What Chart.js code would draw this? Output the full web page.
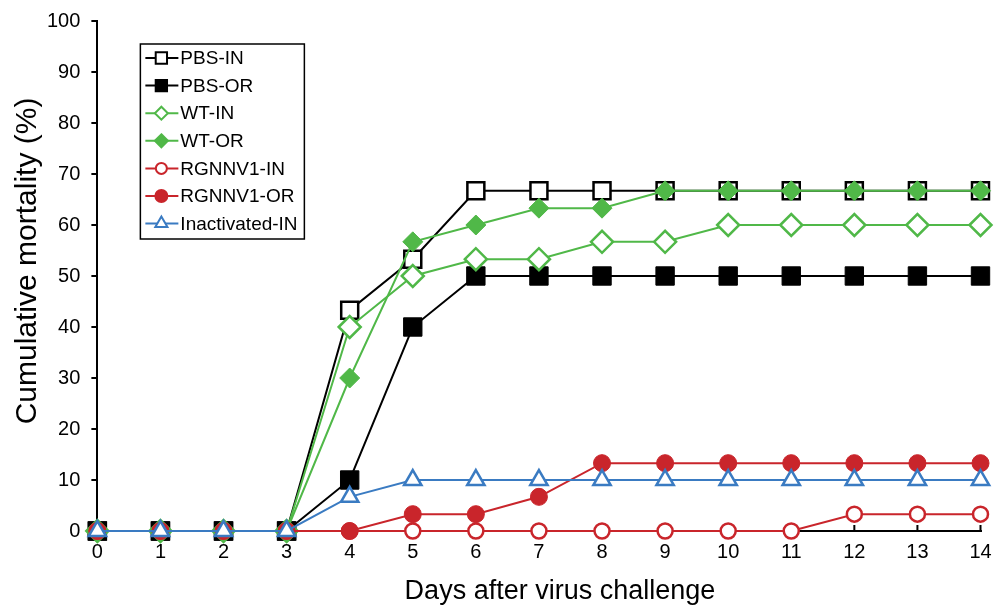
<!DOCTYPE html>
<html>
<head>
<meta charset="utf-8">
<script src="https://cdn.jsdelivr.net/npm/chart.js@4.4.0/dist/chart.umd.min.js"></script>
<style>
  html, body { margin: 0; padding: 0; background: #fff; }
  #wrap { width: 995px; height: 608px; }
</style>
</head>
<body>
<div id="wrap"><canvas id="c"></canvas></div>
<script>
// days after challenge
const days = [0, 1, 2, 3, 4, 5, 6, 7, 8, 9, 10, 11, 12, 13, 14];

// cumulative mortality (%) per group
const pbsIn   = [0, 0, 0, 0, 43.3, 53.3, 66.7, 66.7, 66.7, 66.7, 66.7, 66.7, 66.7, 66.7, 66.7];
const pbsOr   = [0, 0, 0, 0, 10, 40, 50, 50, 50, 50, 50, 50, 50, 50, 50];
const wtIn    = [0, 0, 0, 0, 40, 50, 53.3, 53.3, 56.7, 56.7, 60, 60, 60, 60, 60];
const wtOr    = [0, 0, 0, 0, 30, 56.7, 60, 63.3, 63.3, 66.7, 66.7, 66.7, 66.7, 66.7, 66.7];
const rgIn    = [0, 0, 0, 0, 0, 0, 0, 0, 0, 0, 0, 0, 3.3, 3.3, 3.3];
const rgOr    = [0, 0, 0, 0, 0, 3.3, 3.3, 6.7, 13.3, 13.3, 13.3, 13.3, 13.3, 13.3, 13.3];
const inactIn = [0, 0, 0, 0, 6.7, 10, 10, 10, 10, 10, 10, 10, 10, 10, 10];

const yTicks = [0, 10, 20, 30, 40, 50, 60, 70, 80, 90, 100];

const xTitle = 'Days after virus challenge';
const yTitle = 'Cumulative mortality (%)';

const BLACK = '#000000';
const GREEN = '#50b848';
const RED = '#c9252b';
const BLUE = '#3a7bc2';
const FONT = '"Liberation Sans", Arial, sans-serif';

// label, marker style, colour, filled, radius on chart, radius in legend
const series = [
  { label: 'PBS-IN', data: pbsIn, color: BLACK, style: 'rect', filled: false, r: 12, lr: 8 },
  { label: 'PBS-OR', data: pbsOr, color: BLACK, style: 'rect', filled: true, r: 13, lr: 8 },
  { label: 'WT-IN', data: wtIn, color: GREEN, style: 'rectRot', filled: false, r: 11, lr: 6.5 },
  { label: 'WT-OR', data: wtOr, color: GREEN, style: 'rectRot', filled: true, r: 10, lr: 6.5 },
  { label: 'RGNNV1-IN', data: rgIn, color: RED, style: 'circle', filled: false, r: 7.5, lr: 5.5 },
  { label: 'RGNNV1-OR', data: rgOr, color: RED, style: 'circle', filled: true, r: 8.5, lr: 6 },
  { label: 'Inactivated-IN', data: inactIn, color: BLUE, style: 'triangle', filled: false, r: 10, lr: 7 }
];

const datasets = series.map((s, i) => ({
  label: s.label,
  data: days.map((d, k) => ({ x: d, y: s.data[k] })),
  borderColor: s.color,
  borderWidth: 2,
  backgroundColor: s.filled ? s.color : '#ffffff',
  pointStyle: s.style,
  pointRadius: s.r,
  pointHoverRadius: s.r,
  pointBorderWidth: s.filled ? 1 : 2.5,
  pointBorderColor: s.color,
  pointBackgroundColor: s.filled ? s.color : '#ffffff',
  tension: 0,
  clip: false,
  order: series.length - i   // later groups on top
}));

function marker(ctx, style, x, y, r, s) {
  ctx.save();
  ctx.beginPath();
  if (style === 'rect') {
    const h = r * Math.SQRT1_2;
    ctx.rect(x - h, y - h, 2 * h, 2 * h);
  } else if (style === 'rectRot') {
    ctx.moveTo(x, y - r); ctx.lineTo(x + r, y); ctx.lineTo(x, y + r); ctx.lineTo(x - r, y); ctx.closePath();
  } else if (style === 'circle') {
    ctx.arc(x, y, r, 0, Math.PI * 2);
  } else if (style === 'triangle') {
    const sx = r * Math.sin(Math.PI * 2 / 3), sy = -r * Math.cos(Math.PI * 2 / 3);
    ctx.moveTo(x, y - r);
    ctx.lineTo(x + sx, y + sy);
    ctx.lineTo(x - sx, y + sy);
    ctx.closePath();
  }
  ctx.fillStyle = s.filled ? s.color : '#ffffff';
  ctx.fill();
  ctx.lineWidth = 2;
  ctx.strokeStyle = s.color;
  ctx.stroke();
  ctx.restore();
}

// x ticks point up into the plot, as in the original
const innerTicks = {
  id: 'innerTicks',
  beforeDatasetsDraw(chart) {
    const ctx = chart.ctx;
    const xs = chart.scales.x;
    const b = chart.chartArea.bottom;
    ctx.save();
    ctx.strokeStyle = '#000';
    ctx.lineWidth = 2;
    ctx.beginPath();
    days.forEach(d => {
      const px = xs.getPixelForValue(d);
      ctx.moveTo(px, b);
      ctx.lineTo(px, b - 6);
    });
    ctx.stroke();
    ctx.restore();
  }
};

// boxed legend inside the plot + axis titles (placed a bit off-centre like the original)
const decor = {
  id: 'decor',
  afterDraw(chart) {
    const ctx = chart.ctx;
    const a = chart.chartArea;
    const left = a.left + 43, top = a.top + 23, w = 164, h = 195;
    ctx.save();
    ctx.fillStyle = '#ffffff';
    ctx.fillRect(left, top, w, h);
    ctx.strokeStyle = '#000';
    ctx.lineWidth = 1.5;
    ctx.strokeRect(left, top, w, h);
    ctx.font = '19px ' + FONT;
    ctx.textBaseline = 'middle';
    series.forEach((s, i) => {
      const y = top + 14 + i * 27.6;
      ctx.strokeStyle = s.color;
      ctx.lineWidth = 2;
      ctx.beginPath();
      ctx.moveTo(left + 5, y);
      ctx.lineTo(left + 38, y);
      ctx.stroke();
      marker(ctx, s.style, left + 21, y, s.lr, s);
      ctx.fillStyle = '#000';
      ctx.fillText(s.label, left + 40, y + 1);
    });

    ctx.fillStyle = '#000';
    ctx.textAlign = 'center';
    ctx.textBaseline = 'middle';
    ctx.font = '27px ' + FONT;
    ctx.fillText(xTitle, (a.left + a.right) / 2 + 21, a.bottom + 61);

    ctx.translate(a.left - 70, (a.top + a.bottom) / 2 - 15);
    ctx.rotate(-Math.PI / 2);
    ctx.font = '30px ' + FONT;
    ctx.fillText(yTitle, 0, 0);
    ctx.restore();
  }
};

new Chart(document.getElementById('c'), {
  type: 'line',
  data: { datasets },
  options: {
    responsive: true,
    maintainAspectRatio: false,
    animation: false,
    layout: { padding: { top: 6, right: 0, left: 36, bottom: 43 } },
    plugins: {
      legend: { display: false },
      tooltip: { enabled: false }
    },
    scales: {
      x: {
        type: 'linear',
        min: 0,
        max: 14,
        ticks: { stepSize: 1, color: '#000', font: { family: FONT, size: 20 }, padding: 1 },
        grid: { drawOnChartArea: false, color: '#000', tickColor: 'rgba(0,0,0,0)', lineWidth: 2, tickLength: 8 },
        border: { color: '#000', width: 2 }
      },
      y: {
        min: 0,
        max: 100,
        afterBuildTicks: (scale) => { scale.ticks = yTicks.map(v => ({ value: v })); },
        ticks: { color: '#000', font: { family: FONT, size: 20, lineHeight: 1 }, padding: 11 },
        grid: { drawOnChartArea: false, color: '#000', lineWidth: 2, tickLength: 6 },
        border: { color: '#000', width: 2 }
      }
    }
  },
  plugins: [innerTicks, decor]
});
</script>
</body>
</html>
